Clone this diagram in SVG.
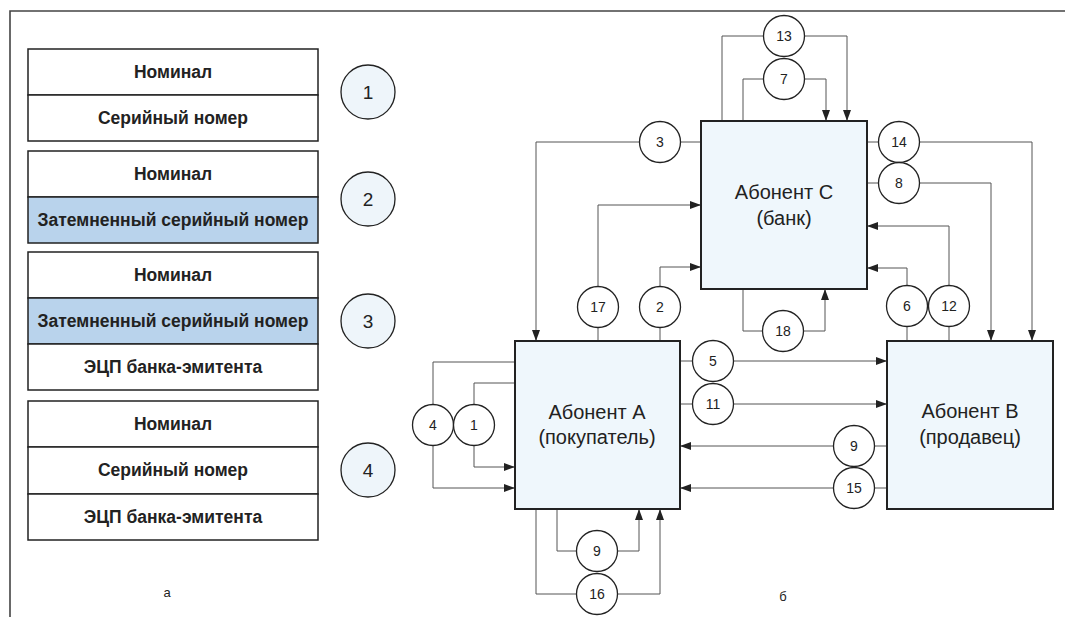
<svg xmlns="http://www.w3.org/2000/svg" width="1065" height="617" viewBox="0 0 1065 617">
<defs>
<marker id="ah" markerWidth="11" markerHeight="8" refX="11" refY="4" orient="auto" markerUnits="userSpaceOnUse">
<path d="M0,0 L11,4 L0,8 z" fill="#222"/>
</marker>
<style>
.frame{fill:none;stroke:#444;stroke-width:1.6}
.row{fill:#fff;stroke:#222;stroke-width:1.5}
.rowb{fill:#b9d3ec;stroke:#222;stroke-width:1.5}
.rt{font-family:"Liberation Sans",Arial,sans-serif;font-weight:bold;font-size:17.5px;fill:#222;text-anchor:middle}
.lc{fill:#eef5fa;stroke:#222;stroke-width:1.3}
.lct{font-family:"Liberation Sans",Arial,sans-serif;font-size:19px;fill:#222;text-anchor:middle}
.box{fill:#eff7fc;stroke:#222;stroke-width:2}
.bt{font-family:"Liberation Sans",Arial,sans-serif;font-size:20px;fill:#222;text-anchor:middle}
.c{fill:#fff;stroke:#222;stroke-width:1.3}
.ct{font-family:"Liberation Sans",Arial,sans-serif;font-size:14px;fill:#222;text-anchor:middle}
.ln{fill:none;stroke:#555;stroke-width:1}
.ar{fill:none;stroke:#555;stroke-width:1;marker-end:url(#ah)}
.cap{font-family:"Liberation Sans",Arial,sans-serif;font-size:13px;fill:#222;text-anchor:middle}
</style>
</defs>
<rect width="1065" height="617" fill="#fff"/>
<path class="frame" d="M10,617 L10,11 L1065,11"/>

<g id="card1">
<rect class="row" x="28" y="49" width="290" height="46"/>
<rect class="row" x="28" y="95" width="290" height="46"/>
<text class="rt" x="173" y="78">Номинал</text>
<text class="rt" x="173" y="124">Серийный номер</text>
<circle class="lc" cx="368" cy="92" r="27"/>
<text class="lct" x="368" y="99">1</text>
</g>
<g id="card2">
<rect class="row" x="28" y="151" width="290" height="46"/>
<rect class="rowb" x="28" y="197" width="290" height="46"/>
<text class="rt" x="173" y="180">Номинал</text>
<text class="rt" x="173" y="226">Затемненный серийный номер</text>
<circle class="lc" cx="368" cy="199" r="27"/>
<text class="lct" x="368" y="206">2</text>
</g>
<g id="card3">
<rect class="row" x="28" y="252" width="290" height="46"/>
<rect class="rowb" x="28" y="298" width="290" height="46"/>
<rect class="row" x="28" y="344" width="290" height="46"/>
<text class="rt" x="173" y="281">Номинал</text>
<text class="rt" x="173" y="327">Затемненный серийный номер</text>
<text class="rt" x="173" y="373">ЭЦП банка-эмитента</text>
<circle class="lc" cx="368" cy="321" r="27"/>
<text class="lct" x="368" y="328">3</text>
</g>
<g id="card4">
<rect class="row" x="28" y="401" width="290" height="46"/>
<rect class="row" x="28" y="447" width="290" height="47"/>
<rect class="row" x="28" y="494" width="290" height="46"/>
<text class="rt" x="173" y="430">Номинал</text>
<text class="rt" x="173" y="476">Серийный номер</text>
<text class="rt" x="173" y="523">ЭЦП банка-эмитента</text>
<circle class="lc" cx="368" cy="470" r="27"/>
<text class="lct" x="368" y="477">4</text>
</g>
<text class="cap" x="167" y="597">а</text>
<text class="cap" x="783" y="601">б</text>

<g id="connectors">
<path class="ln" d="M701,142 H680"/><path class="ar" d="M640,142 H536 V341"/>
<path class="ln" d="M722,121 V36 H764"/><path class="ar" d="M805,36 H847 V121"/>
<path class="ln" d="M743,121 V79 H764"/><path class="ar" d="M805,79 H826 V121"/>
<path class="ln" d="M867,142 H879"/><path class="ar" d="M920,142 H1032 V341"/>
<path class="ln" d="M867,183 H879"/><path class="ar" d="M920,183 H991 V341"/>
<path class="ln" d="M598,341 V327"/><path class="ar" d="M598,287 V205 H701"/>
<path class="ln" d="M660,341 V327"/><path class="ar" d="M660,287 V267 H701"/>
<path class="ln" d="M907,341 V326"/><path class="ar" d="M907,286 V268 H867"/>
<path class="ln" d="M949,341 V326"/><path class="ar" d="M949,286 V226 H867"/>
<path class="ln" d="M743,289 V331 H763"/><path class="ar" d="M803,331 H825 V289"/>
<path class="ln" d="M680,361 H693"/><path class="ar" d="M733,361 H887"/>
<path class="ln" d="M680,404 H693"/><path class="ar" d="M733,404 H887"/>
<path class="ln" d="M887,446 H874"/><path class="ar" d="M834,446 H680"/>
<path class="ln" d="M887,488 H874"/><path class="ar" d="M834,488 H680"/>
<path class="ln" d="M515,362 H433 V405"/><path class="ar" d="M433,445 V488 H515"/>
<path class="ln" d="M515,383 H474 V405"/><path class="ar" d="M474,445 V467 H515"/>
<path class="ln" d="M557,509 V551 H577"/><path class="ar" d="M617,551 H639 V509"/>
<path class="ln" d="M536,509 V594 H577"/><path class="ar" d="M617,594 H660 V509"/>
</g>

<g id="nodeC">
<rect class="box" x="701" y="121" width="166" height="168"/>
<text class="bt" x="784" y="199">Абонент С</text>
<text class="bt" x="784" y="225">(банк)</text>
</g>
<g id="nodeA">
<rect class="box" x="515" y="341" width="165" height="168"/>
<text class="bt" x="597" y="419">Абонент А</text>
<text class="bt" x="597" y="444">(покупатель)</text>
</g>
<g id="nodeB">
<rect class="box" x="887" y="341" width="166" height="168"/>
<text class="bt" x="970" y="418">Абонент В</text>
<text class="bt" x="970" y="444">(продавец)</text>
</g>

<g id="c13"><circle class="c" cx="784" cy="36" r="20.5"/><text class="ct" x="784" y="41">13</text></g>
<g id="c7"><circle class="c" cx="784" cy="79" r="20.5"/><text class="ct" x="784" y="84">7</text></g>
<g id="c3"><circle class="c" cx="660" cy="142" r="20.5"/><text class="ct" x="660" y="147">3</text></g>
<g id="c14"><circle class="c" cx="899" cy="142" r="20.5"/><text class="ct" x="899" y="147">14</text></g>
<g id="c8"><circle class="c" cx="899" cy="183" r="20.5"/><text class="ct" x="899" y="188">8</text></g>
<g id="c17"><circle class="c" cx="598" cy="307" r="20.5"/><text class="ct" x="598" y="312">17</text></g>
<g id="c2"><circle class="c" cx="660" cy="307" r="20.5"/><text class="ct" x="660" y="312">2</text></g>
<g id="c18"><circle class="c" cx="783" cy="331" r="20.5"/><text class="ct" x="783" y="336">18</text></g>
<g id="c6"><circle class="c" cx="907" cy="306" r="20.5"/><text class="ct" x="907" y="311">6</text></g>
<g id="c12"><circle class="c" cx="949" cy="306" r="20.5"/><text class="ct" x="949" y="311">12</text></g>
<g id="c5"><circle class="c" cx="713" cy="361" r="20.5"/><text class="ct" x="713" y="366">5</text></g>
<g id="c11"><circle class="c" cx="713" cy="404" r="20.5"/><text class="ct" x="713" y="409">11</text></g>
<g id="c9b"><circle class="c" cx="854" cy="446" r="20.5"/><text class="ct" x="854" y="451">9</text></g>
<g id="c15"><circle class="c" cx="854" cy="488" r="20.5"/><text class="ct" x="854" y="493">15</text></g>
<g id="c4"><circle class="c" cx="433" cy="425" r="20.5"/><text class="ct" x="433" y="430">4</text></g>
<g id="c1"><circle class="c" cx="474" cy="425" r="20.5"/><text class="ct" x="474" y="430">1</text></g>
<g id="c9a"><circle class="c" cx="597" cy="551" r="20.5"/><text class="ct" x="597" y="556">9</text></g>
<g id="c16"><circle class="c" cx="597" cy="594" r="20.5"/><text class="ct" x="597" y="599">16</text></g>
</svg>
